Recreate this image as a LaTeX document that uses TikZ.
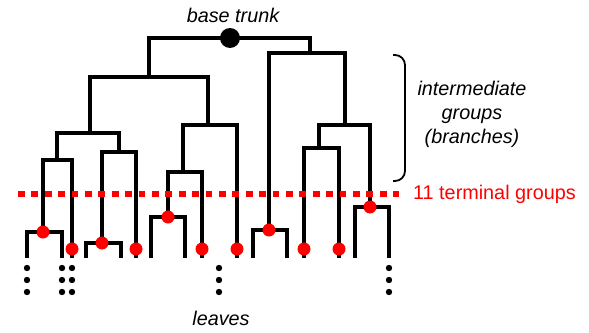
\documentclass[tikz,border=0pt]{standalone}
\usepackage{fontspec}
\setmainfont{Liberation Sans}
\usepackage{tikz}
\usetikzlibrary{positioning}
\definecolor{termred}{RGB}{255,0,0}
\tikzstyle{branch}=[draw,%
                    line width = 4.5pt]
\tikzstyle{termdot}=[circle,fill=termred,inner sep=0pt,outer sep=0pt,minimum size=13pt]
\tikzstyle{trunkdot}=[circle,fill=black,inner sep=0pt,outer sep=0pt,minimum size=20pt]
\tikzstyle{cutline}=[draw=termred,line width=6.5pt,dash pattern=on 6.7pt off 6.7pt]
\tikzstyle{label}=[inner sep=0pt,font=\fontsize{19.8}{24}\selectfont\itshape,align=center]

\begin{document}
\begin{tikzpicture}[x=1pt,y=-1pt]
            \useasboundingbox (0,0) rectangle (589,332);
            % inner groups
            \coordinate (trunk) at (230,38);
            \coordinate (gL)   at (149,77);
            \coordinate (gR)   at (310,53);
            \coordinate (gLL)  at (90,133);
            \coordinate (gLR)  at (208,125);
            \coordinate (gLLL) at (57,160);
            \coordinate (gLLR) at (119,152);
            \coordinate (gLRL) at (183,172);
            \coordinate (gRR)  at (345,125);
            \coordinate (gRRL) at (319,148);
            % terminal groups
            \coordinate (t1)  at (43,232);
            \coordinate (t2)  at (72,249);
            \coordinate (t3)  at (102,243);
            \coordinate (t4)  at (136,249);
            \coordinate (t5)  at (168,217);
            \coordinate (t6)  at (202,249);
            \coordinate (t7)  at (237,249);
            \coordinate (t8)  at (269,230);
            \coordinate (t9)  at (304,249);
            \coordinate (t10) at (339,249);
            \coordinate (t11) at (370,207);
            % leaves
            \coordinate (l1a)  at (27,258);
            \coordinate (l1b)  at (62,258);
            \coordinate (l2)   at (72,258);
            \coordinate (l3a)  at (86,258);
            \coordinate (l3b)  at (121,258);
            \coordinate (l4)   at (136,258);
            \coordinate (l5a)  at (151,258);
            \coordinate (l5b)  at (185,258);
            \coordinate (l6)   at (202,258);
            \coordinate (l7)   at (237,258);
            \coordinate (l8a)  at (253,258);
            \coordinate (l8b)  at (287,258);
            \coordinate (l9)   at (304,258);
            \coordinate (l10)  at (339,258);
            \coordinate (l11a) at (355,258);
            \coordinate (l11b) at (389,258);

            \draw[branch] (trunk) -| (gL);
            \draw[branch] (trunk) -| (gR);
            \draw[branch] (gL) -| (gLL);
            \draw[branch] (gL) -| (gLR);
            \draw[branch] (gLL) -| (gLLL);
            \draw[branch] (gLL) -| (gLLR);
            \draw[branch] (gLLL) -| (t1);
            \draw[branch] (gLLL) -| (l2);
            \draw[branch] (t1) -| (l1a);
            \draw[branch] (t1) -| (l1b);
            \draw[branch] (gLLR) -| (t3);
            \draw[branch] (gLLR) -| (l4);
            \draw[branch] (t3) -| (l3a);
            \draw[branch] (t3) -| (l3b);
            \draw[branch] (gLR) -| (gLRL);
            \draw[branch] (gLR) -| (l7);
            \draw[branch] (gLRL) -| (t5);
            \draw[branch] (gLRL) -| (l6);
            \draw[branch] (t5) -| (l5a);
            \draw[branch] (t5) -| (l5b);
            \draw[branch] (gR) -| (t8);
            \draw[branch] (gR) -| (gRR);
            \draw[branch] (t8) -| (l8a);
            \draw[branch] (t8) -| (l8b);
            \draw[branch] (gRR) -| (gRRL);
            \draw[branch] (gRR) -| (t11);
            \draw[branch] (gRRL) -| (l9);
            \draw[branch] (gRRL) -| (l10);
            \draw[branch] (t11) -| (l11a);
            \draw[branch] (t11) -| (l11b);

            % cut level
            \coordinate (cutL) at (18,194);
            \coordinate (cutR) at (399,194);
            \draw[cutline] (cutL) -- (cutR);

            \node[trunkdot] (base) at (trunk) {};
            \foreach \i in {1,...,11}
              \node[termdot] (d\i) at (t\i) {};

            % leaf dots
            \foreach \x in {27,62,72,219,389}
              \foreach \y in {268,280,292}
                \fill (\x,\y) circle (3.2pt);

            % bracket
            \coordinate (brTop) at (393,55);
            \coordinate (brBot) at (393,181);
            \draw[line width=1.8pt,rounded corners=10pt] (brTop) -- (405,55) -- (405,181) -- (brBot);

            \node[label] (basetxt) at (233,15) {base trunk};
            \node[label] (leaftxt) at (221,318) {leaves};
            \node[label] (midtxt) at (472,114) {intermediate\\groups\\(branches)};
            \node[label,font=\fontsize{19.8}{24}\selectfont,text=termred,right=14pt of cutR] (termtxt) {11 terminal groups};
  \end{tikzpicture}
\end{document}
